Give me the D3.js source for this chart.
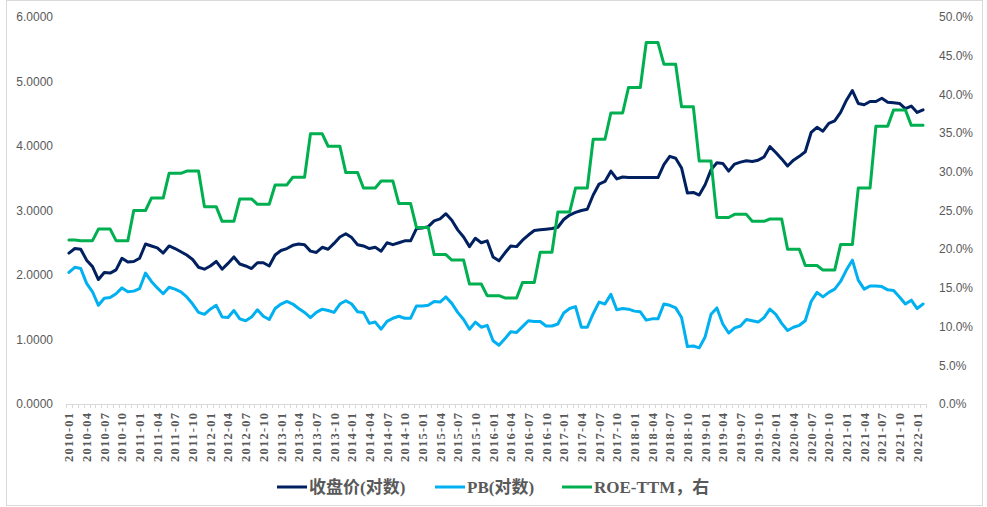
<!DOCTYPE html>
<html lang="zh">
<head>
<meta charset="utf-8">
<title>收盘价 / PB / ROE-TTM</title>
<script src="https://d3js.org/d3.v7.min.js"></script>
<style>
  body { margin: 0; background: #fff; }
  svg { display: block; }
  .tick-l, .tick-r { font-family: "Liberation Sans", Arial, sans-serif; font-size: 12px; fill: #595959; }
  .tick-x { font-family: "Liberation Serif", "Times New Roman", serif; font-weight: bold; font-size: 12.5px; fill: #595959; }
  .legend text { font-family: "Liberation Serif", "Noto Sans CJK SC", serif; font-weight: bold; font-size: 17px; fill: #595959; }
</style>
</head>
<body>
<svg id="chart" width="987" height="507"></svg>
<script>
// months 2010-01 .. 2022-02
const months = [
  "2010-01","2010-02","2010-03","2010-04","2010-05","2010-06","2010-07","2010-08","2010-09","2010-10","2010-11","2010-12",
  "2011-01","2011-02","2011-03","2011-04","2011-05","2011-06","2011-07","2011-08","2011-09","2011-10","2011-11","2011-12",
  "2012-01","2012-02","2012-03","2012-04","2012-05","2012-06","2012-07","2012-08","2012-09","2012-10","2012-11","2012-12",
  "2013-01","2013-02","2013-03","2013-04","2013-05","2013-06","2013-07","2013-08","2013-09","2013-10","2013-11","2013-12",
  "2014-01","2014-02","2014-03","2014-04","2014-05","2014-06","2014-07","2014-08","2014-09","2014-10","2014-11","2014-12",
  "2015-01","2015-02","2015-03","2015-04","2015-05","2015-06","2015-07","2015-08","2015-09","2015-10","2015-11","2015-12",
  "2016-01","2016-02","2016-03","2016-04","2016-05","2016-06","2016-07","2016-08","2016-09","2016-10","2016-11","2016-12",
  "2017-01","2017-02","2017-03","2017-04","2017-05","2017-06","2017-07","2017-08","2017-09","2017-10","2017-11","2017-12",
  "2018-01","2018-02","2018-03","2018-04","2018-05","2018-06","2018-07","2018-08","2018-09","2018-10","2018-11","2018-12",
  "2019-01","2019-02","2019-03","2019-04","2019-05","2019-06","2019-07","2019-08","2019-09","2019-10","2019-11","2019-12",
  "2020-01","2020-02","2020-03","2020-04","2020-05","2020-06","2020-07","2020-08","2020-09","2020-10","2020-11","2020-12",
  "2021-01","2021-02","2021-03","2021-04","2021-05","2021-06","2021-07","2021-08","2021-09","2021-10","2021-11","2021-12",
  "2022-01","2022-02"
];

// 收盘价(对数)
const closeLog = [
  2.34,2.41,2.40,2.23,2.13,1.93,2.04,2.03,2.08,2.26,2.20,2.21,
  2.26,2.48,2.45,2.42,2.34,2.45,2.41,2.36,2.31,2.24,2.12,2.09,
  2.14,2.21,2.09,2.18,2.28,2.17,2.14,2.10,2.19,2.19,2.14,2.31,
  2.38,2.41,2.46,2.48,2.47,2.37,2.35,2.43,2.40,2.49,2.59,2.64,
  2.58,2.47,2.45,2.41,2.43,2.37,2.50,2.47,2.50,2.53,2.53,2.72,
  2.73,2.75,2.84,2.87,2.95,2.85,2.70,2.59,2.44,2.57,2.50,2.53,
  2.28,2.22,2.34,2.45,2.44,2.54,2.62,2.69,2.70,2.71,2.72,2.74,
  2.86,2.93,2.97,3.00,3.02,3.24,3.41,3.45,3.61,3.49,3.52,3.51,
  3.51,3.51,3.51,3.51,3.51,3.71,3.84,3.81,3.66,3.27,3.28,3.24,
  3.40,3.63,3.74,3.73,3.61,3.72,3.75,3.77,3.76,3.78,3.83,3.99,
  3.90,3.80,3.69,3.78,3.84,3.91,4.21,4.29,4.23,4.35,4.39,4.52,
  4.71,4.86,4.66,4.64,4.69,4.69,4.74,4.68,4.67,4.66,4.58,4.62,
  4.52,4.56
];

// PB(对数)
const pbLog = [
  2.04,2.12,2.10,1.87,1.74,1.53,1.64,1.65,1.71,1.80,1.74,1.75,
  1.79,2.03,1.90,1.80,1.71,1.81,1.78,1.74,1.66,1.55,1.42,1.39,
  1.47,1.53,1.35,1.34,1.45,1.32,1.29,1.35,1.46,1.36,1.31,1.48,
  1.55,1.59,1.55,1.48,1.42,1.34,1.42,1.47,1.45,1.42,1.55,1.60,
  1.55,1.43,1.42,1.25,1.27,1.16,1.28,1.33,1.36,1.33,1.33,1.52,
  1.52,1.53,1.59,1.58,1.66,1.56,1.42,1.31,1.16,1.27,1.19,1.22,
  0.98,0.91,1.01,1.12,1.11,1.20,1.29,1.28,1.28,1.21,1.21,1.24,
  1.41,1.48,1.51,1.19,1.19,1.40,1.58,1.55,1.70,1.46,1.48,1.47,
  1.44,1.43,1.30,1.32,1.32,1.55,1.53,1.49,1.34,0.89,0.90,0.87,
  1.04,1.39,1.49,1.24,1.10,1.18,1.21,1.31,1.29,1.27,1.34,1.47,
  1.39,1.25,1.14,1.19,1.22,1.29,1.59,1.73,1.66,1.73,1.78,1.90,
  2.08,2.23,1.92,1.78,1.83,1.83,1.82,1.77,1.76,1.66,1.55,1.61,
  1.48,1.55
];

// ROE-TTM (%), right axis
const roeTTM = [
  21.2,21.2,21.1,21.1,21.1,22.6,22.6,22.6,21.1,21.1,21.1,25.0,
  25.0,25.0,26.6,26.6,26.6,29.8,29.8,29.8,30.1,30.1,30.1,25.5,
  25.5,25.5,23.6,23.6,23.6,26.5,26.5,26.5,25.8,25.8,25.8,28.3,
  28.3,28.3,29.3,29.3,29.3,34.9,34.9,34.9,33.3,33.3,33.3,29.9,
  29.9,29.9,27.9,27.9,27.9,28.8,28.8,28.8,25.9,25.9,25.9,22.8,
  22.8,22.8,19.3,19.3,19.3,18.6,18.6,18.6,15.5,15.5,15.5,14.0,
  14.0,14.0,13.7,13.7,13.7,15.7,15.7,15.7,19.6,19.6,19.6,24.8,
  24.8,24.8,27.9,27.9,27.9,34.2,34.2,34.2,37.6,37.6,37.6,40.9,
  40.9,40.9,46.7,46.7,46.7,43.9,43.9,43.9,38.4,38.4,38.4,31.4,
  31.4,31.4,24.1,24.1,24.1,24.5,24.5,24.5,23.6,23.6,23.6,23.9,
  23.9,23.9,20.0,20.0,20.0,17.9,17.9,17.9,17.3,17.3,17.3,20.6,
  20.6,20.6,27.9,27.9,27.9,35.9,35.9,35.9,38.0,38.0,38.0,36.0,
  36.0,36.0
];

const leftTicks = [0, 1, 2, 3, 4, 5, 6];
const rightTicks = [0, 5, 10, 15, 20, 25, 30, 35, 40, 45, 50];
const tickMonths = months.filter(m => /-(01|04|07|10)$/.test(m));

const seriesNames = ["收盘价(对数)", "PB(对数)", "ROE-TTM，右"];
const colors = ["#002060", "#00b0f0", "#00b050"];

const svg = d3.select("#chart");
const plotLeft = 66, plotRight = 926, plotTop = 17, plotBottom = 404;

// outer frame
svg.append("rect")
  .attr("x", 6.5).attr("y", 0.5).attr("width", 976).attr("height", 505)
  .attr("fill", "none").attr("stroke", "#d9d9d9");

const x = d3.scaleBand().domain(months).range([plotLeft, plotRight]);
const yL = d3.scaleLinear().domain([0, 6]).range([plotBottom, plotTop]);
const yR = d3.scaleLinear().domain([0, 50]).range([plotBottom, plotTop]);
const cx = m => x(m) + x.bandwidth() / 2;

// left axis labels
svg.append("g").selectAll("text").data(leftTicks).join("text")
  .attr("class", "tick-l")
  .attr("x", 53).attr("y", d => yL(d)).attr("dy", "0.35em")
  .attr("text-anchor", "end")
  .text(d3.format(".4f"));

// right axis labels
svg.append("g").selectAll("text").data(rightTicks).join("text")
  .attr("class", "tick-r")
  .attr("x", 939).attr("y", d => yR(d)).attr("dy", "0.35em")
  .attr("text-anchor", "start")
  .text(d => d.toFixed(1) + "%");

// x axis line + month ticks
const xa = svg.append("g");
xa.append("line")
  .attr("x1", plotLeft).attr("x2", plotRight).attr("y1", plotBottom + 0.5).attr("y2", plotBottom + 0.5)
  .attr("stroke", "#d9d9d9");
xa.selectAll("line.t").data(months.concat(["end"])).join("line")
  .attr("class", "t")
  .attr("x1", (d, i) => Math.round(plotLeft + i * x.bandwidth()) + 0.5)
  .attr("x2", (d, i) => Math.round(plotLeft + i * x.bandwidth()) + 0.5)
  .attr("y1", plotBottom).attr("y2", plotBottom + 4)
  .attr("stroke", "#d9d9d9");

xa.selectAll("text").data(tickMonths).join("text")
  .attr("class", "tick-x")
  .attr("transform", d => `translate(${cx(d) + 4.5},413) rotate(-90)`)
  .attr("text-anchor", "end")
  .attr("textLength", 49).attr("lengthAdjust", "spacing")
  .text(d => d);

// lines
const lineL = d3.line().x((d, i) => cx(months[i])).y(d => yL(d));
const lineR = d3.line().x((d, i) => cx(months[i])).y(d => yR(d));

[[closeLog, lineL], [pbLog, lineL], [roeTTM, lineR]].forEach(([data, gen], k) => {
  svg.append("path")
    .datum(data)
    .attr("d", gen)
    .attr("fill", "none")
    .attr("stroke", colors[k])
    .attr("stroke-width", 3)
    .attr("stroke-linejoin", "round")
    .attr("stroke-linecap", "round");
});

// legend
const legendX = [277, 435, 562];
const legend = svg.append("g").attr("class", "legend");
seriesNames.forEach((name, k) => {
  legend.append("line")
    .attr("x1", legendX[k]).attr("x2", legendX[k] + 30)
    .attr("y1", 487).attr("y2", 487)
    .attr("stroke", colors[k]).attr("stroke-width", 3);
  legend.append("text")
    .attr("x", legendX[k] + 32).attr("y", 487).attr("dy", "0.35em")
    .text(name);
});
</script>
</body>
</html>
